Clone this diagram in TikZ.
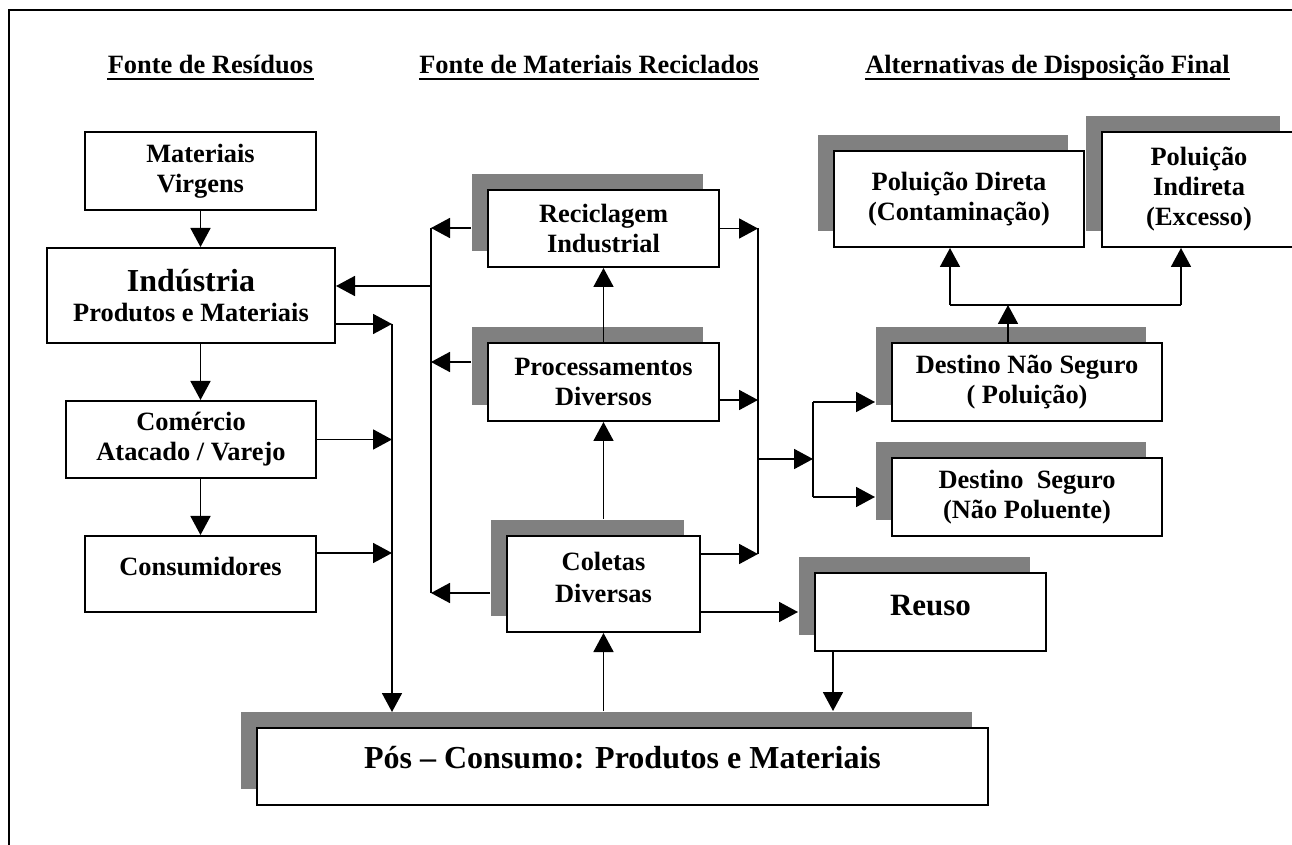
\documentclass[tikz,border=0pt]{standalone}
\usepackage{fontspec}
\setmainfont{Liberation Serif}
\usetikzlibrary{arrows.meta, shadows, calc}

\tikzset{
  caixa/.style={draw, line width=1pt, fill=white, align=center, inner sep=0pt,
    font=\bfseries\fontsize{13.2}{15}\selectfont},
  sombra/.style={caixa,
    drop shadow={shadow xshift=-8pt, shadow yshift=8pt, fill=gray, opacity=1}},
  titulo/.style={anchor=base, inner sep=0pt, font=\bfseries\fontsize{13.2}{15}\selectfont},
  linha/.style={line width=0.9pt},
  seta/.style={linha, -{Triangle[length=9.5pt,width=10pt]}},
}

\begin{document}
\begin{tikzpicture}[x=0.5pt, y=-0.5pt]
  \useasboundingbox (0,0) rectangle (1292,845);
  \draw[linha] (9,845) -- (9,10) -- (1292,10);

  % column titles
  \node[titulo] (t1) at (210.5,74) {Fonte de Resíduos};
  \node[titulo] (t2) at (589,74) {Fonte de Materiais Reciclados};
  \node[titulo] (t3) at (1047.5,74) {Alternativas de Disposição Final};
  \foreach \t in {t1,t2,t3}
    \draw[linha] ($(\t.base west)+(0,5)$) -- ($(\t.base east)+(0,5)$);

  % left column
  \node[caixa, minimum width=115.5pt, minimum height=39pt] (virg) at (200.5,171) {Materiais\\Virgens};
  \node[caixa, minimum width=144pt, minimum height=47.5pt] (ind) at (191,295.5)
    {{\fontsize{16}{16}\selectfont Indústria}\\Produtos e Materiais};
  \node[caixa, minimum width=125pt, minimum height=38.5pt] (com) at (191,439.5) {Comércio\\Atacado / Varejo};
  \node[caixa, minimum width=115.5pt, minimum height=38pt] (cons) at (200.5,574) {Consumidores\\[-7pt]\mbox{}};

  % recycled materials
  \node[sombra, minimum width=115.5pt, minimum height=38.5pt] (reci) at (603.5,228.5) {Reciclagem\\Industrial};
  \node[sombra, minimum width=115.5pt, minimum height=39pt] (proc) at (603.5,382) {Processamentos\\Diversos};
  \node[sombra, minimum width=96.5pt, minimum height=48pt] (colet) at (603.5,584) {Coletas\\[1pt]Diversas\\[-8pt]\mbox{}};
  \node[sombra, minimum width=115.5pt, minimum height=39pt, font=\bfseries\fontsize{15.5}{18}\selectfont] (reuso) at (930.5,612) {Reuso\\[-11pt]\mbox{}};
  \node[sombra, minimum width=365.5pt, minimum height=38.5pt, font=\bfseries\fontsize{16}{19}\selectfont] (pos) at (622.5,766.5)
    {Pós – Consumo: Produtos e Materiais\\[-10pt]\mbox{}};

  % final disposal
  \node[sombra, minimum width=125pt, minimum height=48pt] (pdir) at (959,199) {Poluição Direta\\(Contaminação)};
  \node[sombra, minimum width=97pt, minimum height=57.5pt] (pind) at (1199,189.5) {Poluição\\Indireta\\(Excesso)};
  \node[sombra, minimum width=135pt, minimum height=39pt] (dns) at (1027,382) {Destino Não Seguro\\( Poluição)};
  \node[sombra, minimum width=135pt, minimum height=39pt] (dseg) at (1027,497) {Destino\ \ Seguro\\(Não Poluente)};

  % bus points
  \coordinate (eT) at (431,228);
  \coordinate (eI) at (431,286);
  \coordinate (eP) at (431,362);
  \coordinate (eB) at (431,593);
  \coordinate (cT) at (392,324);
  \coordinate (cC) at (392,439.5);
  \coordinate (cK) at (392,553);
  \coordinate (cB) at (392,712);
  \coordinate (dT) at (758,228.5);
  \coordinate (dP) at (758,400);
  \coordinate (dM) at (758,459);
  \coordinate (dB) at (758,554);
  \coordinate (jT) at (813,402);
  \coordinate (jM) at (813,459);
  \coordinate (jB) at (813,497);
  \coordinate (pM) at (1008,305);
  \coordinate (pE) at (950,305);
  \coordinate (pD) at (1181,305);

  % production chain
  \draw[seta] (virg) -- (virg |- ind.north);
  \draw[seta] (virg |- ind.south) -- (virg |- com.north);
  \draw[seta] (virg |- com.south) -- (cons);

  % back to industry
  \draw[linha] (eT) -- (eB);
  \draw[seta] ($(eT -| reci.west)+(-16,0)$) -- (eT);
  \draw[seta] ($(eP -| proc.west)+(-16,0)$) -- (eP);
  \draw[seta] ($(eB -| colet.west)+(-16,0)$) -- (eB);
  \draw[seta] (eI) -- (eI -| ind.east);

  % to post-consumption
  \draw[seta] (cT -| ind.east) -- (cT);
  \draw[seta] (cC -| com.east) -- (cC);
  \draw[seta] (cK -| cons.east) -- (cK);
  \draw[seta] (cT) -- (cB);

  % recycling chain
  \draw[seta] ($(colet.north)+(0,-16)$) -- (proc.south);
  \draw[seta] (proc.north) -- (reci.south);
  \draw[seta] ($(pos.north -| colet)+(0,-16)$) -- (colet.south);
  \draw[seta] (colet.east |- reuso) -- ($(reuso.west)+(-16,0)$);
  \draw[seta] ($(reuso.south west)+(19,0)$) -- ($(reuso.south west |- pos.north)+(19,-16)$);

  % to final disposal
  \draw[seta] (dT -| reci.east) -- (dT);
  \draw[seta] (dP -| proc.east) -- (dP);
  \draw[seta] (dB -| colet.east) -- (dB);
  \draw[linha] (dT) -- (dB);
  \draw[seta] (dM) -- (jM);
  \draw[linha] (jT) -- (jB);
  \draw[seta] (jT) -- ($(jT -| dns.west)+(-16,0)$);
  \draw[seta] (jB) -- ($(jB -| dseg.west)+(-16,0)$);

  % pollution
  \draw[seta] (pM |- dns.north) -- (pM);
  \draw[linha] (pE) -- (pD);
  \draw[seta] (pE) -- (pE |- pdir.south);
  \draw[seta] (pD) -- (pD |- pind.south);
\end{tikzpicture}
\end{document}
